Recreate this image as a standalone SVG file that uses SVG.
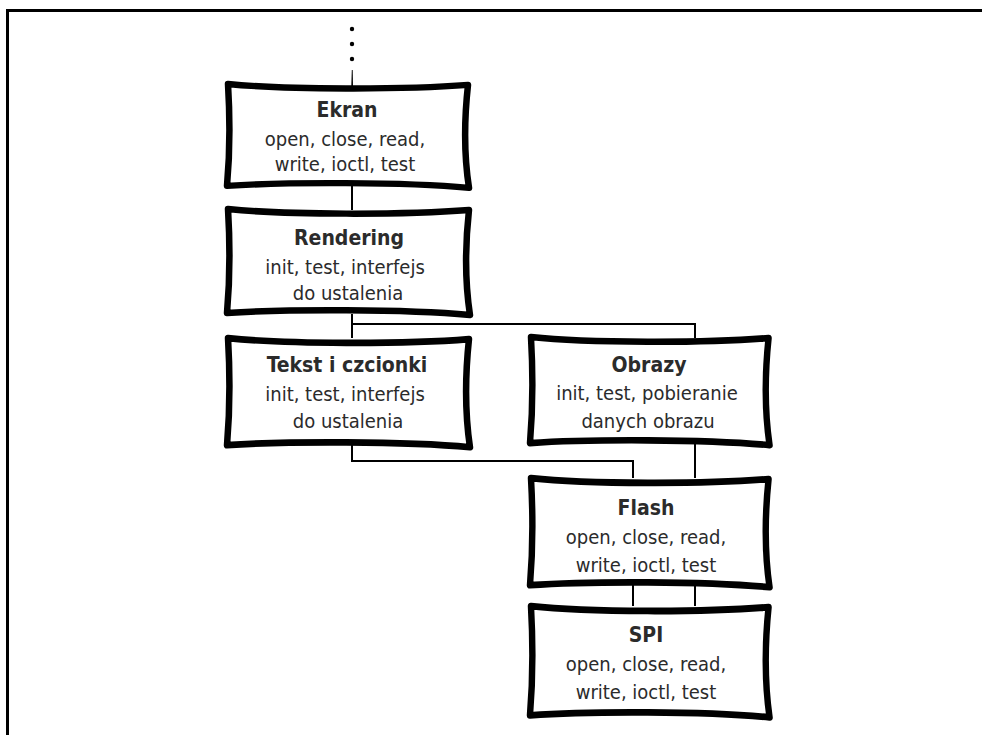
<svg xmlns="http://www.w3.org/2000/svg" width="982" height="735" viewBox="0 0 982 735">
  <defs>
    <style>
      .frame { fill: none; stroke: #000; stroke-width: 3; }
      .box { fill: #fff; stroke: #000; stroke-width: 6.5; stroke-linejoin: round; stroke-linecap: round; }
      .wire { fill: none; stroke: #000; stroke-width: 2; }
      .dot { fill: #000; }
      text { font-family: "DejaVu Sans Condensed", "Liberation Sans", sans-serif; fill: #2b2b2b; text-anchor: middle; }
      .title { font-size: 21px; font-weight: bold; }
      .body { font-size: 20px; }
    </style>
    <!-- hand-drawn module outline, 244 x 108 -->
    <path id="shape" d="M 3,2 C 60,8 180,8 243,3 C 239,40 239,75 244,108 C 180,102 60,102 2,106 C 5,72 5,36 3,2 Z"/>
  </defs>

  <rect width="982" height="735" fill="#fff"/>
  <path class="frame" d="M 7.5,745 V 10.5 H 990"/>

  <g id="connectors">
    <circle class="dot" cx="352" cy="29" r="2.2"/>
    <circle class="dot" cx="352" cy="44" r="2.2"/>
    <circle class="dot" cx="352" cy="59" r="2.2"/>
    <path d="M 351.3,86 L 351.8,70 L 352.7,70 L 353,86 Z" fill="#000"/>
    <path class="wire" d="M 352,186 V 210"/>
    <path class="wire" d="M 352,314 V 338 M 352,324 H 695 V 338"/>
    <path class="wire" d="M 352,445 V 461 H 633 V 478"/>
    <path class="wire" d="M 695,444 V 478"/>
    <path class="wire" d="M 633,585 V 606 M 695,585 V 606"/>
  </g>

  <g id="ekran">
    <use href="#shape" class="box" transform="translate(225,82) scale(1,0.98)"/>
    <text class="title" x="347" y="117">Ekran</text>
    <text class="body" x="345" y="146">open, close, read,</text>
    <text class="body" x="345" y="171">write, ioctl, test</text>
  </g>

  <g id="rendering">
    <use href="#shape" class="box" transform="translate(225,207) scale(1.004,1.0)"/>
    <text class="title" x="349" y="245">Rendering</text>
    <text class="body" x="345" y="274">init, test, interfejs</text>
    <text class="body" x="348" y="300">do ustalenia</text>
  </g>

  <g id="tekst">
    <use href="#shape" class="box" transform="translate(225,336) scale(1.004,1.03)"/>
    <text class="title" x="347" y="372">Tekst i czcionki</text>
    <text class="body" x="345" y="401">init, test, interfejs</text>
    <text class="body" x="348" y="428">do ustalenia</text>
  </g>

  <g id="obrazy">
    <use href="#shape" class="box" transform="translate(528,335) scale(0.99,1.02)"/>
    <text class="title" x="649" y="372">Obrazy</text>
    <text class="body" x="647" y="400">init, test, pobieranie</text>
    <text class="body" x="648" y="428">danych obrazu</text>
  </g>

  <g id="flash">
    <use href="#shape" class="box" transform="translate(528,476) scale(0.99,1.03)"/>
    <text class="title" x="646" y="515">Flash</text>
    <text class="body" x="646" y="544">open, close, read,</text>
    <text class="body" x="646" y="572">write, ioctl, test</text>
  </g>

  <g id="spi">
    <use href="#shape" class="box" transform="translate(528,604) scale(0.99,1.05)"/>
    <text class="title" x="646" y="642">SPI</text>
    <text class="body" x="646" y="671">open, close, read,</text>
    <text class="body" x="646" y="699">write, ioctl, test</text>
  </g>
</svg>
